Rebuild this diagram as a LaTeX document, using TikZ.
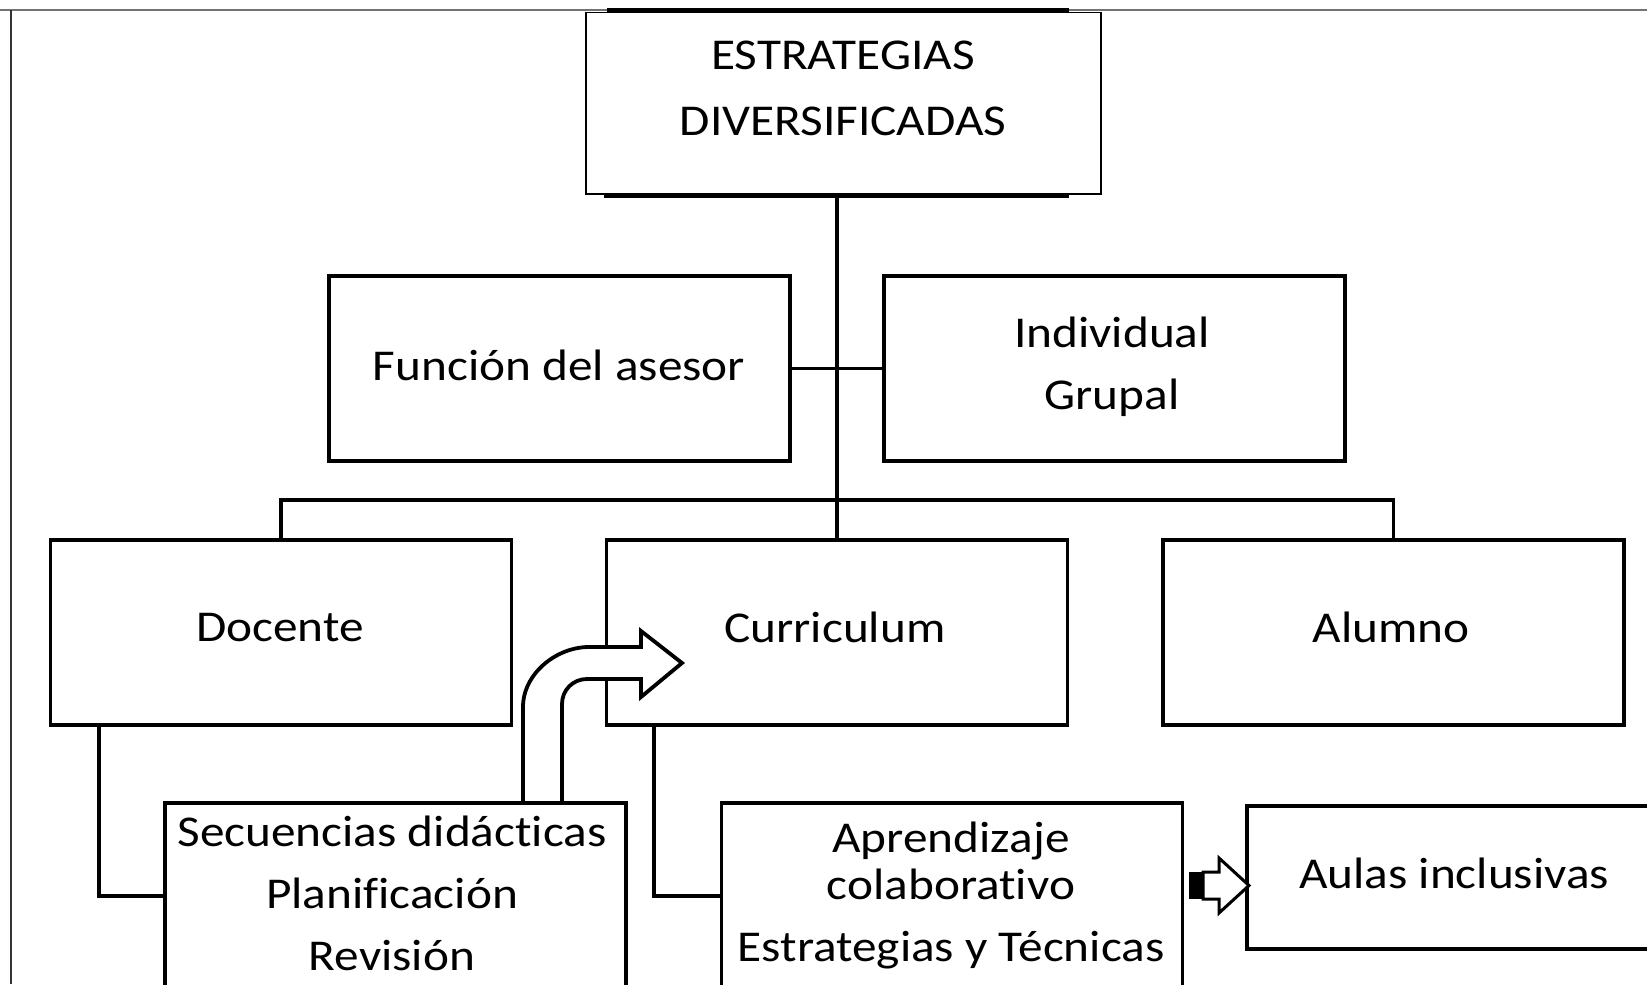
\documentclass[tikz,border=0pt]{standalone}
\usepackage{fontspec}
\setmainfont{Carlito}[FakeStretch=1.12,Ligatures=NoCommon]
\begin{document}
\begin{tikzpicture}[x=0.5pt,y=-0.5pt,
  box/.style={draw=black,line width=1.9pt,fill=white,inner sep=0pt,minimum width=230.5pt,minimum height=92.5pt},
  txt/.style={inner sep=0pt,align=center,font=\fontsize{22}{31}\selectfont},
  conn/.style={draw=black,line width=1.9pt},
  blockarrow/.style={draw=black,line width=1.9pt,fill=white,line join=miter}]
\useasboundingbox (0,0) rectangle (1647,984);
\clip (0,0) rectangle (1647,984);
% frame
\draw[black!55,line width=1pt] (0,10.5) -- (1647,10.5);
\draw[black!80,line width=1pt] (11,10) -- (11,984);
% boxes
\node[box,line width=0.8pt,minimum width=257.5pt,minimum height=90.7pt] (title) at (843.5,103.3) {};
\draw[line width=2pt] (607,10.5) -- (1069,10.5);
\draw[line width=2pt] (604,196) -- (1069,196);
\node[box] (func) at (559.5,368.5) {};
\node[box] (indiv) at (1114.5,368.5) {};
\node[box] (doc) at (281,632.5) {};
\node[box] (curr) at (837,632.5) {};
\node[box] (alum) at (1393.5,632.5) {};
\node[box,minimum height=140pt] (sec) at (395.5,943) {};
\node[box,minimum height=140pt] (apr) at (952,943) {};
\node[box,minimum width=326.5pt,minimum height=71.5pt] (aul) at (1573.5,877.5) {};
% texts
\node[txt,font=\fontsize{22}{33}\selectfont] (ttitle) at (843,88) {ESTRATEGIAS\\DIVERSIFICADAS};
\node[txt] (tfunc) at (559,365) {Función del asesor};
\node[txt] (tindiv) at (1112,367) {Individual\\Grupal};
\node[txt] (tdoc) at (280,628) {Docente};
\node[txt] (tcurr) at (835,627) {Curriculum};
\node[txt] (talum) at (1391,627) {Alumno};
\node[txt] (tsec) at (392,893) {Secuencias didácticas\\Planificación\\Revisión};
\node[txt] (tapr) at (951,895) {Aprendizaje\\[-7.5pt]colaborativo\\Estrategias y Técnicas};
\node[txt] (taul) at (1454,873) {Aulas inclusivas};
% connectors
\coordinate (bar) at (0,500);
\coordinate (d1) at (99,896);
\coordinate (c1) at (654,896);
\draw[conn] (title.south -| curr.north) -- (curr.north);
\draw[conn] (func.east) -- (indiv.west);
\draw[conn] (doc.north) -- (doc.north |- bar) -- (alum.north |- bar) -- (alum.north);
\draw[conn] (doc.south -| d1) |- (sec.west |- d1);
\draw[conn] (curr.south -| c1) |- (apr.west |- c1);
% bent block arrow from Secuencias to Curriculum
\draw[blockarrow] (523,803) -- (523,707) .. controls (523,674) and (556,647) .. (589,647)
  -- (641,647) -- (641,631) -- (682,663) -- (641,697) -- (641,679) -- (587,679)
  .. controls (573,679) and (562,690) .. (562,704) -- (562,803) -- cycle;
% small block arrow from Aprendizaje to Aulas
\fill[black] (1189,872) rectangle (1203,899);
\draw[blockarrow,line width=1.5pt] (1203,872) -- (1219,872) -- (1219,858) -- (1249,885.5) -- (1219,913) -- (1219,899) -- (1203,899) -- cycle;
\end{tikzpicture}
\end{document}
